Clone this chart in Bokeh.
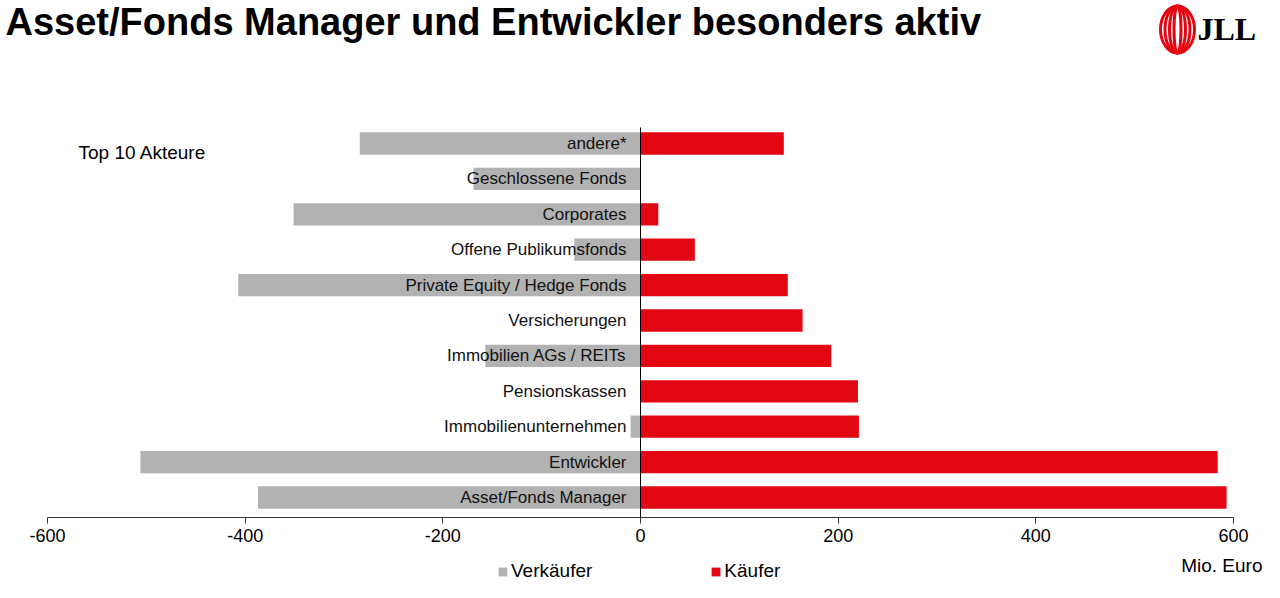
from bokeh.plotting import figure
from bokeh.models import ColumnDataSource, Range1d, Label, Legend, LegendItem, FixedTicker, LinearAxis
from bokeh.embed import file_html
from bokeh.resources import INLINE
from bokeh.core.properties import value

# ---- data ----
title_text = "Asset/Fonds Manager und Entwickler besonders aktiv"
categories = ["Asset/Fonds Manager", "Entwickler", "Immobilienunternehmen", "Pensionskassen",
              "Immobilien AGs / REITs", "Versicherungen", "Private Equity / Hedge Fonds",
              "Offene Publikumsfonds", "Corporates", "Geschlossene Fonds", "andere*"]
verkaeufer = [-387, -506, -10, 0, -157, 0, -407, -67, -351, -169, -284]
kaeufer = [593, 584, 221, 220, 193, 164, 149, 55, 18, 0, 145]
x_ticks = [-600, -400, -200, 0, 200, 400, 600]
series_names = ["Verkäufer", "Käufer"]
unit_label = "Mio. Euro"
note_label = "Top 10 Akteure"
logo_text = "JLL"

GREY = "#B2B2B2"
RED = "#E30613"
FONT = "Liberation Sans"

W, H = 1264, 582
# layout geometry (canvas pixels)
AX_LEFT_PX, AX_RIGHT_PX = 47, 1233        # where -600 / 600 sit
TOP_CAT_PX, BOT_CAT_PX = 143, 497          # centres of top / bottom category
AXIS_PX = 517                              # y of the x axis line
ZERO_TOP_PX = 127                          # top of the zero line
n = len(categories)
kx = (AX_RIGHT_PX - AX_LEFT_PX) / (x_ticks[-1] - x_ticks[0])
ky = (BOT_CAT_PX - TOP_CAT_PX) / (n - 1)
x_start = x_ticks[0] - AX_LEFT_PX / kx
x_end = x_ticks[-1] + (W - AX_RIGHT_PX) / kx
y_end = (n - 1) + TOP_CAT_PX / ky
y_start = -(H - BOT_CAT_PX) / ky
axis_y = -(AXIS_PX - BOT_CAT_PX) / ky
top_y = (n - 1) + (TOP_CAT_PX - ZERO_TOP_PX) / ky


def px2x(px):
    return x_start + px / kx


def py2y(py):
    return y_end - py / ky


pos = list(range(n))
src = ColumnDataSource(dict(y=pos, cat=categories, v=verkaeufer, k=kaeufer, zero=[0] * n))

p = figure(width=W, height=H, x_range=Range1d(x_start, x_end), y_range=Range1d(y_start, y_end),
           output_backend="svg", toolbar_location=None, x_axis_location=None, y_axis_location=None,
           min_border=0, min_border_left=0, min_border_right=0, min_border_top=0, min_border_bottom=0)
p.outline_line_color = None
p.grid.visible = False
p.background_fill_color = "white"

gr = p.hbar(y="y", left="v", right="zero", height=0.63, source=src, fill_color=GREY, line_color=None)
rr = p.hbar(y="y", left="zero", right="k", height=0.63, source=src, fill_color=RED, line_color=None)

p.text(x="zero", y="y", text="cat", source=src, x_offset=-14, text_align="right",
       text_baseline="middle", text_font=value(FONT), text_font_size="17px", text_color="#111111")

# x axis (fixed inside the frame)
ax = LinearAxis(fixed_location=axis_y, bounds=(x_ticks[0], x_ticks[-1]), ticker=FixedTicker(ticks=x_ticks))
ax.major_label_overrides = {t: str(t) for t in x_ticks}
ax.minor_tick_line_color = None
ax.major_tick_in = 0
ax.major_tick_out = 6
ax.axis_line_color = "#333333"
ax.major_tick_line_color = "#333333"
ax.major_label_text_font = FONT
ax.major_label_text_font_size = "18px"
ax.major_label_text_color = "#000000"
ax.major_label_standoff = 5
p.add_layout(ax, "below")

# zero line as a vertical axis without ticks
zax = LinearAxis(fixed_location=0, bounds=(axis_y, top_y), ticker=FixedTicker(ticks=[]))
zax.axis_line_color = "#000000"
zax.axis_line_width = 1
zax.major_tick_line_color = None
zax.minor_tick_line_color = None
zax.major_label_text_alpha = 0
p.add_layout(zax, "left")

legend = Legend(items=[LegendItem(label=series_names[0], renderers=[gr]),
                       LegendItem(label=series_names[1], renderers=[rr])],
                location=(497, 0), orientation="horizontal",
                border_line_color=None, background_fill_alpha=0, padding=0, margin=0,
                spacing=118, label_standoff=3, glyph_width=11, glyph_height=11,
                label_text_font=FONT, label_text_font_size="19px", label_text_color="#000000")
p.add_layout(legend, "center")

# title
p.add_layout(Label(x=5, y=H - 21, x_units="screen", y_units="screen", text=title_text,
                   text_font=FONT, text_font_style="bold", text_font_size="38px",
                   text_baseline="alphabetic", text_color="#000000"))
# note and unit
p.add_layout(Label(x=78, y=H - 152, x_units="screen", y_units="screen", text=note_label,
                   text_font=FONT, text_font_size="19px", text_baseline="middle", text_color="#000000"))
p.add_layout(Label(x=1262, y=H - 565, x_units="screen", y_units="screen", text=unit_label,
                   text_font=FONT, text_font_size="19px", text_baseline="middle", text_align="right",
                   text_color="#000000"))

# logo
p.ellipse(x=[px2x(1177)] * 4, y=[py2y(29)] * 4, width=[34, 25, 16, 7], height=[47] * 4,
          width_units="screen", height_units="screen",
          fill_color=None, line_color=RED, line_width=3)
p.add_layout(Label(x=1197, y=H - 28, x_units="screen", y_units="screen", text=logo_text,
                   text_font="Liberation Serif", text_font_style="bold", text_font_size="32px",
                   text_baseline="middle", text_color="#000000"))

open("out.html", "w").write(file_html(p, INLINE))
